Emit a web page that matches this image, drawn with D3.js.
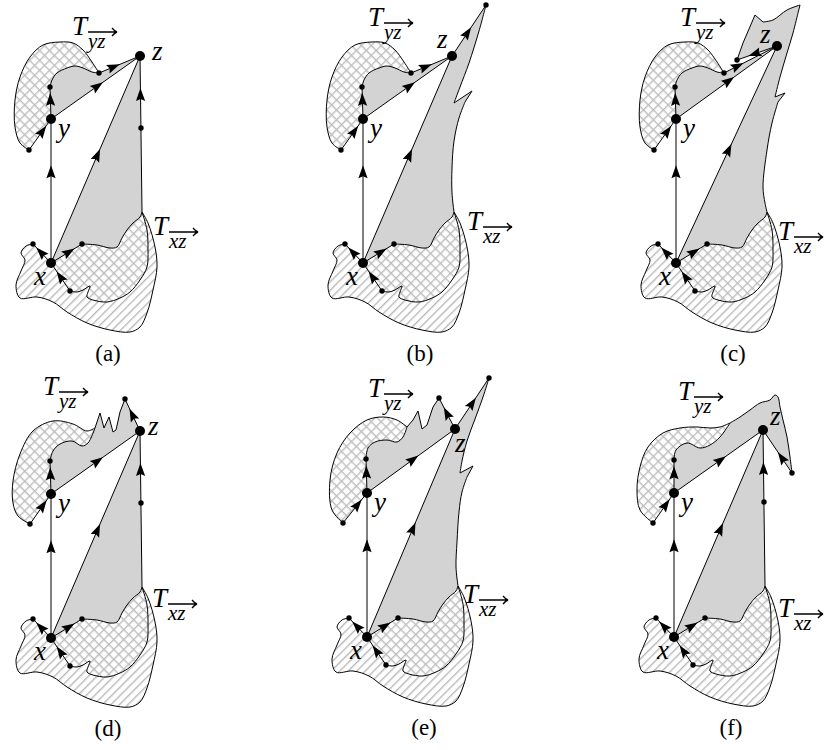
<!DOCTYPE html>
<html>
<head>
<meta charset="utf-8">
<script src="https://cdn.jsdelivr.net/npm/d3@7"></script>
<style>
body{margin:0;background:#fff}
svg{display:block}
text{font-family:"Liberation Serif","DejaVu Serif",serif}
</style>
</head>
<body>
<div id="chart"></div>
<script>
// shape coordinates, all local to vertex x of each panel
var panelNames = ['(a)', '(b)', '(c)', '(d)', '(e)', '(f)'];

var vertexY = [0, -144];
var vertexZ = [[89, -207], [89, -207], [101, -217], [89, -207], [88, -208], [89, -207]];
var junction = [91, -51];
var vertDot = [90, -135];

// lower tree T_xz
var lowOuter = [[91, -51], [97, -40], [104, -16], [106, 4], [102, 27], [96, 50], [89, 64], [79, 69], [59, 67],
  [36, 60], [16, 49], [2, 39], [-14, 34], [-31, 35], [-35, 22], [-30, 8], [-26, -3], [-30, -10], [-25, -17], [-18, -19]];
var lowInner = [[19, 28], [26, 29], [32, 27], [39, 23], [37, 29], [36, 34], [42, 37], [56, 39], [69, 35], [79, 29],
  [89, 17], [96, 4], [97, -13], [96, -33], [91, -51]];
var lowGray = [[31, -19], [46, -18], [59, -15], [66, -16], [71, -25], [76, -33], [82, -40], [89, -46], [91, -51]];
var leftDot = [-18, -19], rightDot = [31, -19], bottomDot = [19, 28];

// upper tree T_yz
var upOuterBase = [[-22, -113], [-31, -120], [-36, -136], [-36, -163], [-31, -186], [-21, -206], [-8, -218], [9, -221],
  [22, -220], [32, -213], [41, -201], [48, -190]];
var upInnerBase = [[-1, -176], [1, -183], [6, -190], [16, -195], [24, -197], [32, -195], [41, -191], [48, -190]];
var upOuterD = [[-21, -114], [-33, -122], [-38, -135], [-38, -157], [-31, -184], [-18, -207], [2, -217], [22, -214], [36, -207], [44, -210]];
var upInnerD = [[-1, -177], [2, -187], [9, -194], [21, -197], [31, -192], [37, -195], [44, -210]];
var upOuterE = [[-24, -114], [-35, -127], [-37, -157], [-30, -184], [-17, -204], [0, -217], [16, -220], [30, -217], [40, -210]];
var upInnerE = [[-1, -178], [1, -189], [8, -195], [20, -197], [30, -195], [36, -200], [40, -210]];
var upOuterF = [[-21, -114], [-34, -127], [-37, -147], [-34, -170], [-26, -190], [-11, -204], [6, -209], [23, -210],
  [36, -209], [46, -210], [56, -214]];
var upInnerF = [[0, -177], [2, -187], [13, -194], [26, -189], [36, -192], [46, -200], [56, -214]];
var spikesD = [[44, -210], [49, -225], [53, -210], [58, -221], [62, -206], [65, -208], [69, -226], [74, -239]];
var spikesE = [[40, -210], [46, -217], [51, -226], [55, -208], [60, -212], [66, -230], [72, -239]];
var tailF = [[56, -214], [66, -220], [76, -227], [86, -234], [96, -237], [101, -242], [104, -240], [106, -230],
  [109, -217], [113, -200], [116, -180], [118, -164]];

var upOuter = [upOuterBase, upOuterBase, upOuterBase, upOuterD, upOuterE, upOuterF];
var upInner = [upInnerBase, upInnerBase, upInnerBase, upInnerD, upInnerE, upInnerF];
var upExtra = [null, null, null, [spikesD, 0], [spikesE, 0], [tailF, 1]];

// right boundary of the grey region: null = straight edge z -> junction
var rightTip = [null, [123, -258], [61, -203], null, [122, -259], null];
var rightEdge = [
  null,
  [[[[123, -258], [116, -232], [106, -200], [97, -176], [91, -160]], 1], [[[91, -160], [109, -172], [102, -161]], 0],
    [[[102, -161], [96, -145], [91, -122], [89, -95], [89, -70], [91, -51]], 1]],
  [[[[61, -203], [67, -220], [79, -248], [87, -241]], 0], [[[87, -241], [97, -243], [111, -253], [124, -258]], 1],
    [[[124, -258], [122, -250]], 0], [[[122, -250], [117, -230], [111, -210], [104, -186], [99, -166]], 1],
    [[[99, -166], [109, -170], [102, -161]], 0], [[[102, -161], [96, -140], [91, -113], [87, -76], [89, -60], [91, -51]], 1]],
  null,
  [[[[122, -259], [116, -240], [108, -218], [100, -196], [95, -176], [93, -164]], 1], [[[93, -164], [106, -171], [100, -160]], 0],
    [[[100, -160], [95, -145], [92, -125], [90, -95], [89, -70], [91, -51]], 1]],
  null
];

// label anchors
var labelZ = [[101, -203], [74, -215], [84, -220], [97, -203], [88, -185], [96, -212]];
var labelTyz = [[21, -228], [5, -237], [4, -237], [-8, -243], [1, -240], [4, -237]];
var labelTxz = [[102, -28], [104, -33], [102, -23], [101, -31], [96, -34], [104, -20]];

// layout
var W = 831, H = 750;
var panelOrigin = [[51, 263], [363, 263], [676, 263], [51, 638], [367, 637], [674, 637]];
var GREY = '#d3d3d3';

var svg = d3.select('#chart').append('svg').attr('width', W).attr('height', H);
var defs = svg.append('defs');

var diag = defs.append('pattern').attr('id', 'diag').attr('patternUnits', 'userSpaceOnUse')
  .attr('width', 6).attr('height', 6).attr('patternTransform', 'rotate(45)');
diag.append('rect').attr('width', 6).attr('height', 6).attr('fill', '#fff');
diag.append('rect').attr('x', 0).attr('y', 0).attr('width', 1.4).attr('height', 6).attr('fill', '#b9b9b9');

var cross = defs.append('pattern').attr('id', 'cross').attr('patternUnits', 'userSpaceOnUse')
  .attr('width', 7).attr('height', 7).attr('patternTransform', 'rotate(45)');
cross.append('rect').attr('width', 7).attr('height', 7).attr('fill', '#fff');
cross.append('rect').attr('width', 1.4).attr('height', 7).attr('fill', '#bebebe');
cross.append('rect').attr('width', 7).attr('height', 1.4).attr('fill', '#bebebe');

function drawPanel(i) {
  var o = panelOrigin[i];
  var sx = d3.scaleLinear().domain([0, 1]).range([o[0], o[0] + 1]);
  var sy = d3.scaleLinear().domain([0, 1]).range([o[1], o[1] + 1]);
  var smooth = d3.line().x(function(d){ return sx(d[0]); }).y(function(d){ return sy(d[1]); })
    .curve(d3.curveCatmullRom.alpha(0.5));
  var straight = d3.line().x(function(d){ return sx(d[0]); }).y(function(d){ return sy(d[1]); });

  function build(segs, close) {
    return segs.map(function(s, k){
      var d = (s[1] ? smooth : straight)(s[0]);
      return k ? d.replace(/^M/, 'L') : d;
    }).join('') + (close ? 'Z' : '');
  }
  function rev(a) { return a.slice().reverse(); }

  var X = [0, 0], Y = vertexY, Z = vertexZ[i];
  var uo = upOuter[i], ui = upInner[i];
  var llDot = uo[0], aboveDot = ui[0], M = ui[ui.length - 1];
  var ex = upExtra[i];
  var E = ex ? ex[0][ex[0].length - 1] : M;

  var rightSegs = rightTip[i] ? [[[Z, rightTip[i]], 0]].concat(rightEdge[i]) : [[[Z, junction], 0]];

  var g = svg.append('g');

  // fills
  g.append('path').attr('d', build([[lowOuter, 1], [[leftDot, X, rightDot], 0], [lowGray, 1]], true))
    .attr('fill', 'url(#diag)');
  g.append('path').attr('d', build([[[X, rightDot], 0], [lowGray, 1], [rev(lowInner), 1], [[bottomDot, X], 0]], true))
    .attr('fill', 'url(#cross)');
  g.append('path').attr('d', build([[[X, Z], 0]].concat(rightSegs, [[rev(lowGray), 1], [[rightDot, X], 0]]), true))
    .attr('fill', GREY);
  g.append('path').attr('d', build([[[Y, llDot], 0], [uo, 1], [rev(ui), 1], [[aboveDot, Y], 0]], true))
    .attr('fill', 'url(#cross)');
  var ug = [[[Y, aboveDot], 0], [ui, 1]];
  if (ex) ug.push(ex);
  ug.push([[E, Z, Y], 0]);
  g.append('path').attr('d', build(ug, true)).attr('fill', GREY);

  // boundary curves
  var curves = [[[lowOuter, 1]], [[lowInner, 1]], [[lowGray, 1]], [[uo, 1]], [[ui, 1]]];
  if (ex) curves.push([ex]);
  if (rightEdge[i]) curves.push(rightEdge[i]);
  curves.forEach(function(c){
    g.append('path').attr('d', build(c, false)).attr('fill', 'none')
      .attr('stroke', '#000').attr('stroke-width', 1).attr('stroke-linejoin', 'round');
  });

  // tree edges with arrow position t (arrow points to second vertex)
  var edges = [[X, Y, 0.63], [X, Z, 0.52], [Y, Z, 0.52], [Y, aboveDot, 0.6], [llDot, Y, 0.6],
    [X, leftDot, 0.55], [X, rightDot, 0.57], [bottomDot, X, 0.5]];
  if (i === 0) edges.push([E, Z, 0.35], [junction, Z, 0.75]);
  if (i === 1) edges.push([E, Z, 0.35], [Z, rightTip[i], 0.45]);
  if (i === 2) edges.push([E, Z, 0.25], [Z, rightTip[i], 0.55]);
  if (i === 3) edges.push([Z, E, 0.5], [junction, Z, 0.75]);
  if (i === 4) edges.push([Z, E, 0.5], [Z, rightTip[i], 0.5]);
  if (i === 5) edges.push([E, Z, 0.35], [junction, Z, 0.75]);

  edges.forEach(function(e){
    var a = e[0], b = e[1];
    g.append('line').attr('x1', sx(a[0])).attr('y1', sy(a[1])).attr('x2', sx(b[0])).attr('y2', sy(b[1]))
      .attr('stroke', '#000').attr('stroke-width', 1);
    var px = sx(a[0] + (b[0] - a[0]) * e[2]), py = sy(a[1] + (b[1] - a[1]) * e[2]);
    var ang = Math.atan2(sy(b[1]) - sy(a[1]), sx(b[0]) - sx(a[0])) * 180 / Math.PI;
    g.append('path').attr('d', 'M7,0L-6,-4.6L-4,0L-6,4.6Z')
      .attr('transform', 'translate(' + px + ',' + py + ') rotate(' + ang + ')').attr('fill', '#000');
  });

  // vertices
  var small = [llDot, aboveDot, E, leftDot, rightDot, bottomDot];
  if (!rightTip[i]) small.push(vertDot); else small.push(rightTip[i]);
  small.forEach(function(p){
    g.append('circle').attr('cx', sx(p[0])).attr('cy', sy(p[1])).attr('r', 2.7).attr('fill', '#000');
  });
  [X, Y, Z].forEach(function(p){
    g.append('circle').attr('cx', sx(p[0])).attr('cy', sy(p[1])).attr('r', 5).attr('fill', '#000');
  });

  // labels
  function math(t, p, size) {
    return g.append('text').attr('x', sx(p[0])).attr('y', sy(p[1])).attr('font-style', 'italic')
      .attr('font-size', size).text(t);
  }
  math('x', [-17, 22], 27);
  math('y', [7, -126], 27);
  math('z', labelZ[i], 27);

  function treeLabel(p, sub) {
    var tx = sx(p[0]), ty = sy(p[1]);
    g.append('text').attr('x', tx).attr('y', ty).attr('font-style', 'italic').attr('font-size', 27).text('T');
    g.append('text').attr('x', tx + 16).attr('y', ty + 13).attr('font-style', 'italic').attr('font-size', 21).text(sub);
    var ax = tx + 16, bx = tx + 45, ay = ty - 3;
    g.append('path').attr('d', 'M' + ax + ',' + ay + 'H' + bx + 'M' + (bx - 5) + ',' + (ay - 4) + 'Q' + (bx - 2) + ',' + (ay - 0.5) + ' ' + bx + ',' + ay +
      'Q' + (bx - 2) + ',' + (ay + 0.5) + ' ' + (bx - 5) + ',' + (ay + 4))
      .attr('fill', 'none').attr('stroke', '#000').attr('stroke-width', 1.3);
  }
  treeLabel(labelTyz[i], 'yz');
  treeLabel(labelTxz[i], 'xz');

  g.append('text').attr('x', sx(57)).attr('y', sy(98)).attr('text-anchor', 'middle')
    .attr('font-size', 23).text(panelNames[i]);
}

panelNames.forEach(function(n, i){ drawPanel(i); });
</script>
</body>
</html>
